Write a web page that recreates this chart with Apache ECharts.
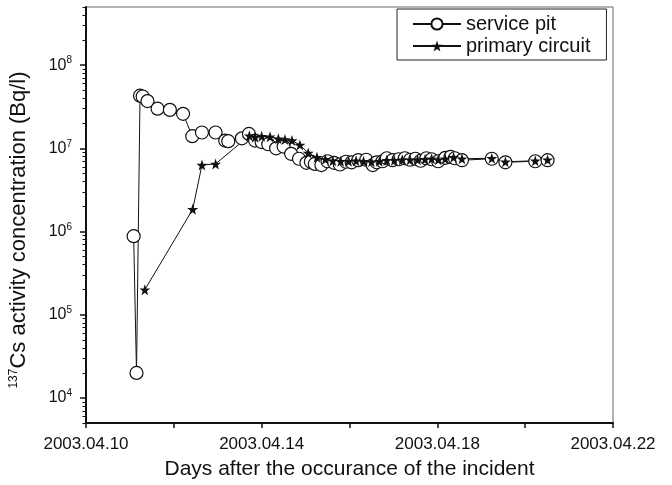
<!DOCTYPE html>
<html>
<head>
<meta charset="utf-8">
<script src="https://cdn.jsdelivr.net/npm/echarts@6/dist/echarts.min.js"></script>
<style>
  html, body { margin: 0; padding: 0; background: #fff; }
  #chart { width: 672px; height: 485px; }
</style>
</head>
<body>
<div id="chart"></div>
<script>
  // days are April 2003 (day of month, fractional)
  var pitDays = [11.085, 11.15, 11.23, 11.29, 11.40, 11.63, 11.91, 12.21, 12.42, 12.64, 12.95, 13.17, 13.24,
    13.55, 13.71, 13.85, 14.00, 14.15, 14.33, 14.50, 14.67, 14.85, 15.02, 15.12, 15.21, 15.36, 15.50,
    15.65, 15.78, 15.92, 16.05, 16.20, 16.38, 16.53, 16.62, 16.75, 16.85, 16.98, 17.12, 17.26, 17.38,
    17.50, 17.62, 17.75, 17.87, 18.02, 18.18, 18.30, 18.40, 18.56, 19.24, 19.55, 20.23, 20.51];
  var pitValues = [8.8e5, 2.0e4, 4.3e7, 4.2e7, 3.7e7, 3.0e7, 2.9e7, 2.6e7, 1.4e7, 1.55e7, 1.55e7, 1.24e7, 1.22e7,
    1.32e7, 1.49e7, 1.24e7, 1.19e7, 1.12e7, 1.0e7, 1.05e7, 8.6e6, 7.5e6, 6.7e6, 6.9e6, 6.5e6, 6.3e6, 7.0e6,
    6.7e6, 6.4e6, 6.9e6, 6.8e6, 7.2e6, 7.3e6, 6.3e6, 6.8e6, 7.0e6, 7.6e6, 7.2e6, 7.4e6, 7.6e6, 7.3e6,
    7.5e6, 7.1e6, 7.6e6, 7.4e6, 7.0e6, 7.7e6, 7.9e6, 7.6e6, 7.2e6, 7.5e6, 6.8e6, 7.0e6, 7.2e6];

  var circuitDays = [11.34, 12.43, 12.64, 12.95, 13.72, 13.85, 14.00, 14.19, 14.38, 14.53, 14.69, 14.87,
    15.06, 15.26, 15.45, 15.62, 15.80, 15.98, 16.15, 16.32, 16.50, 16.68, 16.85, 17.02, 17.20, 17.38,
    17.55, 17.72, 17.87, 18.02, 18.18, 18.37, 18.56, 19.24, 19.55, 20.23, 20.51];
  var circuitValues = [2.0e5, 1.85e6, 6.3e6, 6.5e6, 1.42e7, 1.36e7, 1.4e7, 1.38e7, 1.3e7, 1.28e7, 1.24e7, 1.1e7,
    8.8e6, 7.8e6, 7.4e6, 7.1e6, 7.0e6, 7.0e6, 7.1e6, 7.0e6, 6.9e6, 7.0e6, 7.2e6, 7.2e6, 7.3e6, 7.3e6,
    7.3e6, 7.4e6, 7.5e6, 7.3e6, 7.5e6, 7.8e6, 7.5e6, 7.6e6, 6.9e6, 7.1e6, 7.3e6];

  var xLabelDays = [10, 14, 18, 22];
  var yMajorTicks = [1e4, 1e5, 1e6, 1e7, 1e8];

  // minor log ticks 2..9 in each decade
  var yMinorTicks = [];
  [1e3, 1e4, 1e5, 1e6, 1e7, 1e8].forEach(function (d) {
    for (var k = 2; k <= 9; k++) {
      var v = d * k;
      if (v >= 5000 && v <= 5e8 && yMajorTicks.indexOf(v) < 0) yMinorTicks.push(v);
    }
  });

  function zip(xs, ys) {
    return xs.map(function (x, i) { return [x, ys[i]]; });
  }

  var starPath = 'path://M50,0 L61.8,35.1 L98.1,35.1 L68.8,56.8 L79.4,91 L50,70 L20.6,91 L31.2,56.8 L1.9,35.1 L38.2,35.1 Z';
  var font = 'Liberation Sans, Arial, sans-serif';

  var myChart = echarts.init(document.getElementById('chart'));
  myChart.setOption({
    animation: false,
    textStyle: { fontFamily: font },
    grid: {
      left: 86,
      right: 59,
      top: 7,
      bottom: 60,
      show: true,
      borderColor: '#666',
      borderWidth: 1
    },
    legend: {
      orient: 'vertical',
      left: 397,
      top: 9,
      padding: [5, 16, 4, 15],
      itemGap: 2,
      itemWidth: 48,
      itemHeight: 14,
      borderColor: '#222',
      borderWidth: 1,
      textStyle: { fontSize: 20, color: '#111', fontFamily: font },
      data: ['service pit', 'primary circuit']
    },
    xAxis: {
      type: 'value',
      min: 10,
      max: 22,
      interval: 2,
      name: 'Days after the occurance of the incident',
      nameLocation: 'middle',
      nameGap: 36,
      nameTextStyle: { fontSize: 21, color: '#111' },
      axisLine: { lineStyle: { color: '#111', width: 2 } },
      axisTick: { length: 5, lineStyle: { color: '#111', width: 1.5 } },
      axisLabel: {
        margin: 13,
        fontSize: 17,
        color: '#111',
        formatter: function (v) {
          return xLabelDays.indexOf(v) >= 0 ? '2003.04.' + v : '';
        }
      },
      splitLine: { show: false }
    },
    yAxis: [{
      type: 'log',
      logBase: 10,
      min: 5000,
      max: 5e8,
      name: '{sup|137}Cs activity concentration (Bq/l)',
      nameLocation: 'middle',
      nameGap: 56,
      nameTextStyle: {
        fontSize: 22,
        color: '#111',
        padding: [0, 30, 0, 0],
        rich: {
          sup: { fontSize: 12, padding: [0, 0, 10, 0], color: '#111' }
        }
      },
      axisLine: { show: true, lineStyle: { color: '#111', width: 2 } },
      axisTick: { length: 6, customValues: yMajorTicks, lineStyle: { color: '#111', width: 1.5 } },
      axisLabel: {
        margin: 14,
        customValues: yMajorTicks,
        color: '#111',
        formatter: function (v) {
          return '{b|10}{sup|' + Math.round(Math.log10(v)) + '}';
        },
        rich: {
          b: { fontSize: 16, color: '#111' },
          sup: { fontSize: 10, padding: [0, 0, 9, 0], color: '#111' }
        }
      },
      splitLine: { show: false }
    }, {
      type: 'log',
      logBase: 10,
      min: 5000,
      max: 5e8,
      position: 'left',
      axisLine: { show: false },
      axisTick: { show: true, length: 3.5, customValues: yMinorTicks, lineStyle: { color: '#111', width: 1 } },
      axisLabel: { show: false },
      splitLine: { show: false }
    }],
    series: [{
      name: 'service pit',
      type: 'line',
      data: zip(pitDays, pitValues),
      symbol: 'circle',
      symbolSize: 13,
      showAllSymbol: true,
      lineStyle: { color: '#111', width: 1 },
      itemStyle: { color: '#fff', borderColor: '#111', borderWidth: 1.2 }
    }, {
      name: 'primary circuit',
      type: 'line',
      data: zip(circuitDays, circuitValues),
      symbol: starPath,
      symbolSize: 11,
      showAllSymbol: true,
      lineStyle: { color: '#111', width: 1 },
      itemStyle: { color: '#111', borderWidth: 0 }
    }]
  });
  window.addEventListener('resize', function () {
    myChart.resize();
  });
</script>
</body>
</html>
